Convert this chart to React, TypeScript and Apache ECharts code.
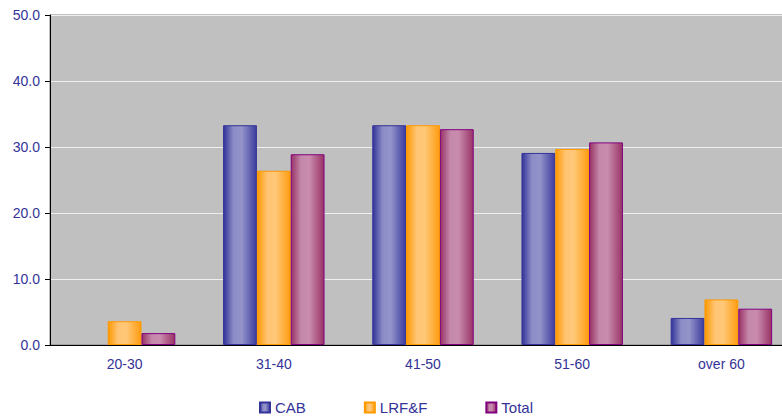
import React, { useEffect, useRef } from "react";
import * as echarts from "echarts";

const categories = ["20-30", "31-40", "41-50", "51-60", "over 60"];
const cabValues = [0, 33.3, 33.3, 29.1, 4.1];
const lrfValues = [3.6, 26.4, 33.3, 29.7, 6.9];
const totalValues = [1.8, 28.9, 32.7, 30.7, 5.5];
const yTicks = { min: 0, max: 50, interval: 10 };

const FONT = "'Liberation Sans', Arial, sans-serif";
const LABEL_COLOR = "#333399";

// horizontal shading that gives each bar a rounded, cylinder-like look
function shade(edge: string, light: string, light2: string, edgeR: string) {
  return new echarts.graphic.LinearGradient(0, 0, 1, 0, [
    { offset: 0, color: edge },
    { offset: 0.3, color: light },
    { offset: 0.55, color: light2 },
    { offset: 1, color: edgeR },
  ]);
}

export default function App() {
  const ref = useRef<HTMLDivElement>(null);

  useEffect(() => {
    if (!ref.current) return;
    const chart = echarts.init(ref.current, undefined, { renderer: "svg" });

    const barSeries = (
      name: string,
      values: number[],
      fill: any,
      border: string
    ) => ({
      name,
      type: "bar",
      // an empty (zero) bar gets no outline, so nothing is drawn for it
      data: values.map((v) =>
        v === 0 ? { value: v, itemStyle: { borderWidth: 0 } } : v
      ),
      barGap: "0%",
      barCategoryGap: "32%",
      itemStyle: { color: fill, borderColor: border, borderWidth: 1 },
    });

    chart.setOption({
      animation: false,
      backgroundColor: "#ffffff",
      textStyle: { fontFamily: FONT },
      grid: {
        left: 50,
        top: 15,
        width: 746,
        bottom: 74,
        outerBoundsMode: "none",
        containLabel: false,
        show: true,
        backgroundColor: "#c0c0c0",
        borderColor: "#808080",
        borderWidth: 1,
      },
      legend: {
        left: 254,
        top: 395,
        itemWidth: 10,
        itemHeight: 10,
        itemGap: 58,
        icon: "rect",
        textStyle: { color: LABEL_COLOR, fontSize: 15, fontFamily: FONT },
        data: ["CAB", "LRF&F", "Total"],
      },
      xAxis: {
        type: "category",
        data: categories,
        axisLine: { lineStyle: { color: "#000000", width: 1 } },
        axisTick: { length: 5, lineStyle: { color: "#000000" } },
        axisLabel: {
          color: LABEL_COLOR,
          fontSize: 14,
          fontFamily: FONT,
          margin: 12,
        },
      },
      yAxis: {
        type: "value",
        min: yTicks.min,
        max: yTicks.max,
        interval: yTicks.interval,
        axisLine: { show: true, lineStyle: { color: "#000000", width: 1 } },
        axisTick: { show: true, length: 5, lineStyle: { color: "#000000" } },
        axisLabel: {
          color: LABEL_COLOR,
          fontSize: 14,
          fontFamily: FONT,
          margin: 10,
          formatter: (v: number) => v.toFixed(1),
        },
        splitLine: { lineStyle: { color: "#eeeeee", width: 1 } },
      },
      series: [
        barSeries(
          "CAB",
          cabValues,
          shade("#333399", "#8c8cc6", "#9494cb", "#3c3c9e"),
          "#333399"
        ),
        barSeries(
          "LRF&F",
          lrfValues,
          shade("#ff9900", "#ffc474", "#ffc878", "#ff9c10"),
          "#ff9900"
        ),
        barSeries(
          "Total",
          totalValues,
          shade("#993366", "#c488aa", "#c98cae", "#993366"),
          "#800080"
        ),
      ],
    });

    return () => chart.dispose();
  }, []);

  return (
    <div
      ref={ref}
      style={{ position: "fixed", left: 0, top: 0, width: 782, height: 419 }}
    />
  );
}
